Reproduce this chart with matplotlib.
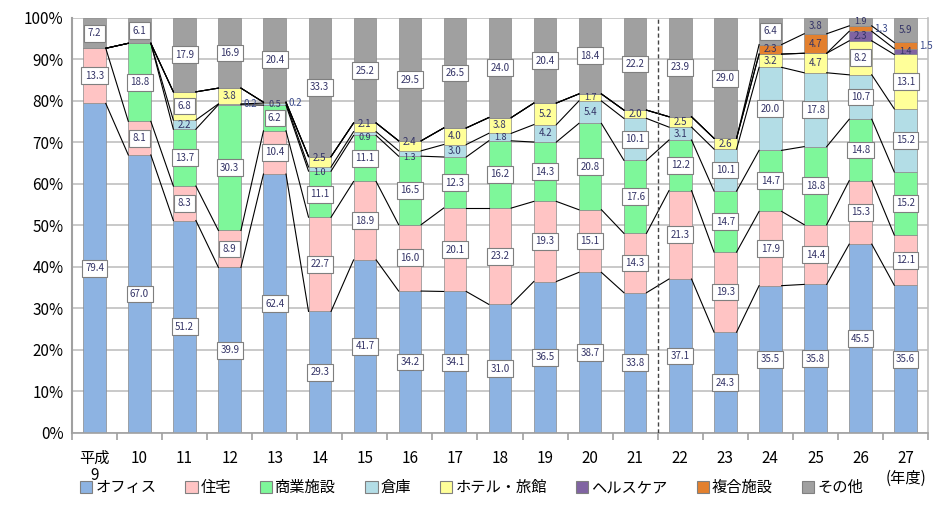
import numpy as np
import matplotlib.pyplot as plt
from matplotlib.patches import Patch

plt.rcParams["font.family"] = ["Noto Sans CJK JP", "DejaVu Sans"]

years = ["平成\n9", "10", "11", "12", "13", "14", "15", "16", "17", "18",
         "19", "20", "21", "22", "23", "24", "25", "26", "27"]

office     = [79.4, 67.0, 51.2, 39.9, 62.4, 29.3, 41.7, 34.2, 34.1, 31.0, 36.5, 38.7, 33.8, 37.1, 24.3, 35.5, 35.8, 45.5, 35.6]
housing    = [13.3, 8.1, 8.3, 8.9, 10.4, 22.7, 18.9, 16.0, 20.1, 23.2, 19.3, 15.1, 14.3, 21.3, 19.3, 17.9, 14.4, 15.3, 12.1]
commercial = [0.0, 18.8, 13.7, 30.3, 6.2, 11.1, 11.1, 16.5, 12.3, 16.2, 14.3, 20.8, 17.6, 12.2, 14.7, 14.7, 18.8, 14.8, 15.2]
warehouse  = [0.0, 0.0, 2.2, 0.2, 0.5, 1.0, 0.9, 1.3, 3.0, 1.8, 4.2, 5.4, 10.1, 3.1, 10.1, 20.0, 17.8, 10.7, 15.2]
hotel      = [0.0, 0.0, 6.8, 3.8, 0.2, 2.5, 2.1, 2.4, 4.0, 3.8, 5.2, 1.7, 2.0, 2.5, 2.6, 3.2, 4.7, 8.2, 13.1]
healthcare = [0.0, 0.0, 0.0, 0.0, 0.0, 0.0, 0.0, 0.0, 0.0, 0.0, 0.0, 0.0, 0.0, 0.0, 0.0, 0.0, 0.0, 2.3, 1.4]
complex_   = [0.0, 0.0, 0.0, 0.0, 0.0, 0.0, 0.0, 0.0, 0.0, 0.0, 0.0, 0.0, 0.0, 0.0, 0.0, 2.3, 4.7, 1.3, 1.5]
other      = [7.2, 6.1, 17.9, 16.9, 20.4, 33.3, 25.2, 29.5, 26.5, 24.0, 20.4, 18.4, 22.2, 23.9, 29.0, 6.4, 3.8, 1.9, 5.9]

names = ["オフィス", "住宅", "商業施設", "倉庫", "ホテル・旅館", "ヘルスケア", "複合施設", "その他"]
series = [office, housing, commercial, warehouse, hotel, healthcare, complex_, other]
colors = ["#8DB3E2", "#FFC4C4", "#7EF79A", "#B3DDE6", "#FFFF99", "#8064A2", "#E3802E", "#A0A0A0"]

fig = plt.figure(figsize=(9.47, 5.05), dpi=100)
ax = fig.add_axes([0.076, 0.1426, 0.904, 0.8218])

x = np.arange(len(years))
w = 0.5
data = np.array(series)
cum = np.vstack([np.zeros(len(years)), np.cumsum(data, axis=0)])

for k, (vals, col) in enumerate(zip(series, colors)):
    ax.bar(x, vals, w, bottom=cum[k], color=col, edgecolor="#8a8a8a", linewidth=0.5, zorder=2)

# series lines between neighbouring bars
for k in range(1, len(series)):
    for i in range(len(years) - 1):
        ax.plot([x[i] + w / 2, x[i + 1] - w / 2], [cum[k][i], cum[k][i + 1]],
                color="black", lw=0.8, zorder=3)


def side_label(k, v):
    return v <= 0.2 or (k == 6 and v < 2)


# spread apart labels of two thin segments stacked on each other
offset = np.zeros(data.shape)
for i in range(len(years)):
    for k in range(1, len(series)):
        a, b = data[k - 1][i], data[k][i]
        if 0 < a < 1.5 and 0 < b < 3 and not side_label(k, b) and not side_label(k - 1, a):
            offset[k - 1][i] -= 0.9
            offset[k][i] += 0.9

# data labels
for k, vals in enumerate(series):
    for i, v in enumerate(vals):
        if v <= 0:
            continue
        mid = cum[k][i] + v / 2 + offset[k][i]
        txt = f"{v:.1f}"
        if side_label(k, v):
            ax.text(x[i] + w / 2 + 0.05, mid, txt, ha="left", va="center",
                    fontsize=7, color="#3a4a8a", zorder=5)
        elif v >= 6:
            ax.text(x[i], mid, txt, ha="center", va="center", fontsize=7,
                    color="#333366", zorder=5,
                    bbox=dict(boxstyle="square,pad=0.35", fc="white", ec="#7f7f7f", lw=0.8))
        else:
            ax.text(x[i], mid, txt, ha="center", va="center",
                    fontsize=7 if v >= 2 else 6.5, color="#333366", zorder=5)

ax.axvline(12.5, color="#444444", lw=1.0, ls=(0, (3, 2)), zorder=4)

ax.set_xlim(-0.5, 18.5)
ax.set_ylim(0, 100)
ax.set_yticks(np.arange(0, 101, 10))
ax.set_yticklabels([f"{t}%" for t in range(0, 101, 10)], fontsize=11)
ax.yaxis.grid(True, color="#c0c0c0", lw=1.2, zorder=0)
ax.set_axisbelow(True)
ax.tick_params(axis="y", length=0, pad=6)

ax.set_xticks(x)
ax.set_xticklabels(years, fontsize=11, linespacing=1.0)
ax.set_xticks(np.arange(-0.5, 18.6, 1), minor=True)
ax.tick_params(axis="x", which="major", length=0, pad=12)
ax.tick_params(axis="x", which="minor", length=5, color="#a0a0a0", width=1.2)

ax.spines["top"].set_visible(False)
ax.spines["left"].set_color("#a0a0a0")
ax.spines["left"].set_linewidth(1.5)
ax.spines["bottom"].set_color("#a0a0a0")
ax.spines["bottom"].set_linewidth(1.2)
ax.spines["right"].set_color("#c0c0c0")
ax.spines["right"].set_linewidth(1.2)

handles = [Patch(facecolor=c, edgecolor="#808080", lw=0.8) for c in colors]
fig.legend(handles, names, loc="lower left", bbox_to_anchor=(0.07, -0.01), ncol=8,
           frameon=False, fontsize=11, handlelength=0.8, handleheight=0.8,
           handletextpad=0.2, columnspacing=1.9)
fig.text(0.957, 0.035, "(年度)", ha="center", va="bottom", fontsize=11)

fig.savefig("out.png", dpi=100)
